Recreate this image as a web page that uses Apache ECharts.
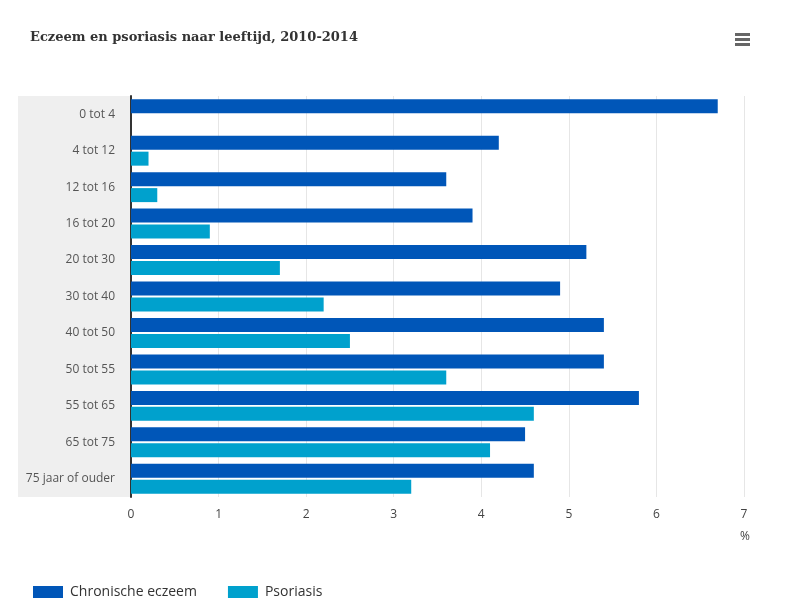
<!DOCTYPE html>
<html>
<head>
<meta charset="utf-8">
<script src="https://cdn.jsdelivr.net/npm/echarts@6/dist/echarts.min.js"></script>
<style>html,body{margin:0;padding:0;background:#fff}#c{width:800px;height:610px}</style>
</head>
<body>
<div id="c"></div>
<script>
const categories = ['0 tot 4','4 tot 12','12 tot 16','16 tot 20','20 tot 30','30 tot 40','40 tot 50','50 tot 55','55 tot 65','65 tot 75','75 jaar of ouder'];
const eczeem = [6.7, 4.2, 3.6, 3.9, 5.2, 4.9, 5.4, 5.4, 5.8, 4.5, 4.6];
const psoriasis = [null, 0.2, 0.3, 0.9, 1.7, 2.2, 2.5, 3.6, 4.6, 4.1, 3.2];
const xTicks = [0, 1, 2, 3, 4, 5, 6, 7];

const chart = echarts.init(document.getElementById('c'));
chart.setOption({
  backgroundColor: '#fff',
  animation: false,
  title: {
    text: 'Eczeem en psoriasis naar leeftijd, 2010-2014',
    left: 25, top: 26,
    textStyle: {fontFamily: 'DejaVu Serif', fontSize: 13, fontWeight: 'bold', color: '#333'}
  },
  graphic: [
    {type: 'rect', left: 18, top: 96, shape: {width: 113, height: 401}, style: {fill: '#efefef'}, z: -1},
    {type: 'group', left: 735, top: 33, children: [
      {type: 'rect', shape: {x: 0, y: 0, width: 15, height: 3}, style: {fill: '#666'}},
      {type: 'rect', shape: {x: 0, y: 5, width: 15, height: 3}, style: {fill: '#666'}},
      {type: 'rect', shape: {x: 0, y: 10, width: 15, height: 3}, style: {fill: '#666'}}
    ]}
  ],
  legend: {
    left: 28, bottom: 6,
    itemWidth: 30, itemHeight: 12, itemGap: 31,
    icon: 'rect',
    textStyle: {fontFamily: 'Open Sans', fontSize: 14, color: '#333', padding: [0, 0, 0, 2]},
    data: ['Chronische eczeem', 'Psoriasis']
  },
  grid: {left: 131, right: 56, top: 96, bottom: 113, containLabel: false},
  xAxis: {
    type: 'value', min: 0, max: 7, interval: 1,
    name: '%', nameLocation: 'end', nameGap: -4,
    nameTextStyle: {fontFamily: 'Open Sans', fontSize: 12, color: '#444', verticalAlign: 'top', padding: [34, 0, 0, 0]},
    axisLine: {show: false}, axisTick: {show: false},
    axisLabel: {fontFamily: 'Open Sans', fontSize: 12, color: '#444', margin: 12,
      formatter: v => xTicks.includes(v) ? String(v) : ''},
    splitLine: {lineStyle: {color: '#e6e6e6'}}
  },
  yAxis: {
    type: 'category', data: categories, inverse: true,
    axisLine: {lineStyle: {color: '#333', width: 2}},
    axisTick: {length: 8, lineStyle: {color: '#ccc'}},
    axisLabel: {fontFamily: 'Open Sans', fontSize: 12, color: '#555', margin: 16}
  },
  series: [
    {name: 'Chronische eczeem', type: 'bar', data: eczeem, barWidth: 14, barGap: '14%',
     itemStyle: {color: '#0056b8'}},
    {name: 'Psoriasis', type: 'bar', data: psoriasis, barWidth: 14,
     itemStyle: {color: '#00a1cd'}}
  ]
});
</script>
</body>
</html>
